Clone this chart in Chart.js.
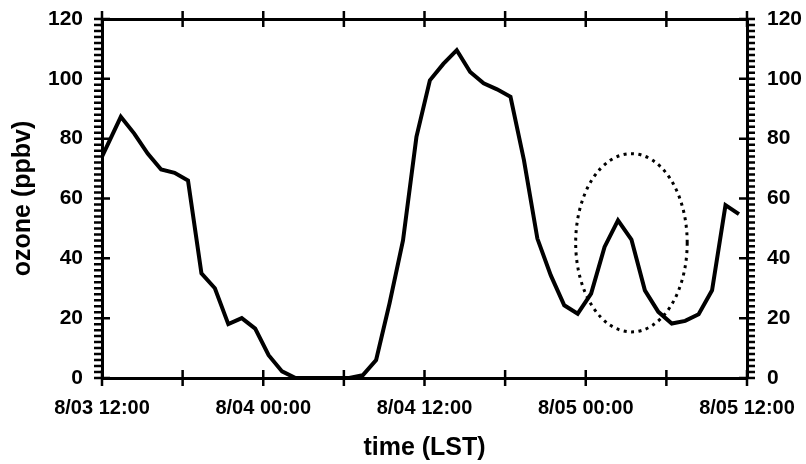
<!DOCTYPE html>
<html>
<head>
<meta charset="utf-8">
<script src="https://cdn.jsdelivr.net/npm/chart.js@4.4.0/dist/chart.umd.min.js"></script>
<style>
  html, body { margin: 0; padding: 0; background: #fff; }
  #wrap { width: 806px; height: 464px; }
</style>
</head>
<body>
<div id="wrap"><canvas id="idOzoneChart"></canvas></div>
<script>
    // hours after 8/03 12:00 LST
    const hours = [0, 1.4, 2.4, 3.4, 4.4, 5.4, 6.4, 7.4, 8.4, 9.4, 10.4, 11.4, 12.4, 13.4, 14.4, 15.4,
        16.4, 17.4, 18.4, 19.4, 20.4, 21.4, 22.4, 23.4, 24.4, 25.4, 26.4, 27.4, 28.4, 29.4, 30.4, 31.4,
        32.4, 33.4, 34.4, 35.4, 36.4, 37.4, 38.4, 39.4, 40.4, 41.4, 42.4, 43.4, 44.4, 45.4, 46.4, 47.4];
    const ozone = [74, 87.3, 81.7, 75, 69.7, 68.6, 66, 35, 30, 18, 20, 16.5, 7.6, 2.2, 0, 0,
        0, 0, 0, 0.9, 6, 25, 46, 80.6, 99.5, 105, 109.6, 102.3, 98.5, 96.5, 94, 72.8,
        46.6, 34.3, 24.3, 21.5, 28.2, 43.8, 52.7, 46.3, 29.3, 22.1, 18.2, 19.1, 21.3, 29.3, 57.8, 54.8];

    const timeTicks = [0, 12, 24, 36, 48];
    const timeLabels = ['8/03 12:00', '8/04 00:00', '8/04 12:00', '8/05 00:00', '8/05 12:00'];

    // dotted ellipse round the night-time peak: centre (hour, ppbv), radii (hours, ppbv)
    const ellipseCentre = [39.4, 45.2];
    const ellipseRadius = [4.15, 29.8];

    const xTickFont = { family: 'Liberation Sans', weight: 'bold', size: 20 };
    const yTickFont = { family: 'Liberation Sans', weight: 'bold', size: 21 };
    const titleFont = { family: 'Liberation Sans', weight: 'bold', size: 25 };

    // fixed box sizes, and no extra room for label overhang
    function fixSize(w, h) {
        return s => {
            if (w !== null) s.width = w;
            if (h !== null) s.height = h;
            s.paddingTop = s.paddingBottom = s.paddingLeft = s.paddingRight = 0;
        };
    }

    // tick marks like the original plot: majors cross the axis, minors point out
    var axisTicks = {
        id: 'axisTicks',
        afterDraw(chart) {
            const ctx = chart.ctx;
            const a = chart.chartArea;
            const x = chart.scales.x, y = chart.scales.y;
            ctx.save();
            ctx.strokeStyle = '#000';
            ctx.lineWidth = 2.5;
            ctx.beginPath();
            for (let h = 0; h <= 48; h += 6) {
                let px = x.getPixelForValue(h);
                ctx.moveTo(px, a.bottom - 8); ctx.lineTo(px, a.bottom + 8);
                ctx.moveTo(px, a.top - 8); ctx.lineTo(px, a.top + 8);
            }
            for (let v = 0; v <= 120; v += 2) {
                let py = y.getPixelForValue(v);
                let inner = (v % 20 === 0) ? 8 : 0;
                ctx.moveTo(a.left - 8, py); ctx.lineTo(a.left + inner, py);
                ctx.moveTo(a.right - inner, py); ctx.lineTo(a.right + 8, py);
            }
            ctx.stroke();
            ctx.restore();
        }
    };

    var dottedEllipse = {
        id: 'dottedEllipse',
        afterDatasetsDraw(chart) {
            const ctx = chart.ctx;
            const x = chart.scales.x, y = chart.scales.y;
            const cx = x.getPixelForValue(ellipseCentre[0]);
            const cy = y.getPixelForValue(ellipseCentre[1]);
            const rx = x.getPixelForValue(ellipseCentre[0] + ellipseRadius[0]) - cx;
            const ry = cy - y.getPixelForValue(ellipseCentre[1] + ellipseRadius[1]);
            ctx.save();
            ctx.strokeStyle = '#000';
            ctx.lineWidth = 3;
            ctx.setLineDash([3, 4.5]);
            ctx.beginPath();
            ctx.ellipse(cx, cy, rx, ry, 0, 0, Math.PI * 2);
            ctx.stroke();
            ctx.restore();
        }
    };

    var ctx = document.getElementById('idOzoneChart').getContext('2d');
    var idOzoneChart = new Chart(ctx, {
        type: 'line',
        data: {
            datasets: [{
                label: 'ozone',
                data: hours.map((h, i) => ({ x: h, y: ozone[i] })),
                borderColor: '#000',
                borderWidth: 4,
                pointRadius: 0,
                tension: 0,
                fill: false
            }]
        },
        options: {
            responsive: true,
            maintainAspectRatio: false,
            animation: false,
            layout: { padding: 0 },
            plugins: {
                legend: { display: false },
                tooltip: { enabled: false }
            },
            scales: {
                x: {
                    type: 'linear',
                    position: 'bottom',
                    min: 0,
                    max: 48,
                    afterBuildTicks: s => { s.ticks = timeTicks.map(v => ({ value: v })); },
                    afterFit: fixSize(null, 86),
                    grid: { display: false, drawTicks: false, tickLength: 0 },
                    border: { display: true, color: '#000', width: 3 },
                    ticks: {
                        color: '#000',
                        font: xTickFont,
                        padding: 18,
                        maxRotation: 0,
                        autoSkip: false,
                        callback: v => timeLabels[timeTicks.indexOf(v)]
                    },
                    title: {
                        display: true,
                        text: 'time (LST)',
                        color: '#000',
                        font: titleFont,
                        padding: { top: 0, bottom: 1 }
                    }
                },
                xTop: {
                    type: 'linear',
                    position: 'top',
                    min: 0,
                    max: 48,
                    afterFit: fixSize(null, 19),
                    grid: { display: false, drawTicks: false },
                    border: { display: true, color: '#000', width: 3 },
                    ticks: { display: false }
                },
                y: {
                    position: 'left',
                    min: 0,
                    max: 120,
                    afterFit: fixSize(102, null),
                    grid: { display: false, drawTicks: false, tickLength: 0 },
                    border: { display: true, color: '#000', width: 3 },
                    ticks: { stepSize: 20, color: '#000', font: yTickFont, padding: 19 },
                    title: {
                        display: true,
                        text: 'ozone (ppbv)',
                        color: '#000',
                        font: titleFont,
                        padding: { top: 8, bottom: 0 }
                    }
                },
                yRight: {
                    position: 'right',
                    min: 0,
                    max: 120,
                    afterFit: fixSize(59, null),
                    grid: { display: false, drawTicks: false, tickLength: 0 },
                    border: { display: true, color: '#000', width: 3 },
                    ticks: { stepSize: 20, color: '#000', font: yTickFont, padding: 20 }
                }
            }
        },
        plugins: [dottedEllipse, axisTicks]
    });
</script>
</body>
</html>
